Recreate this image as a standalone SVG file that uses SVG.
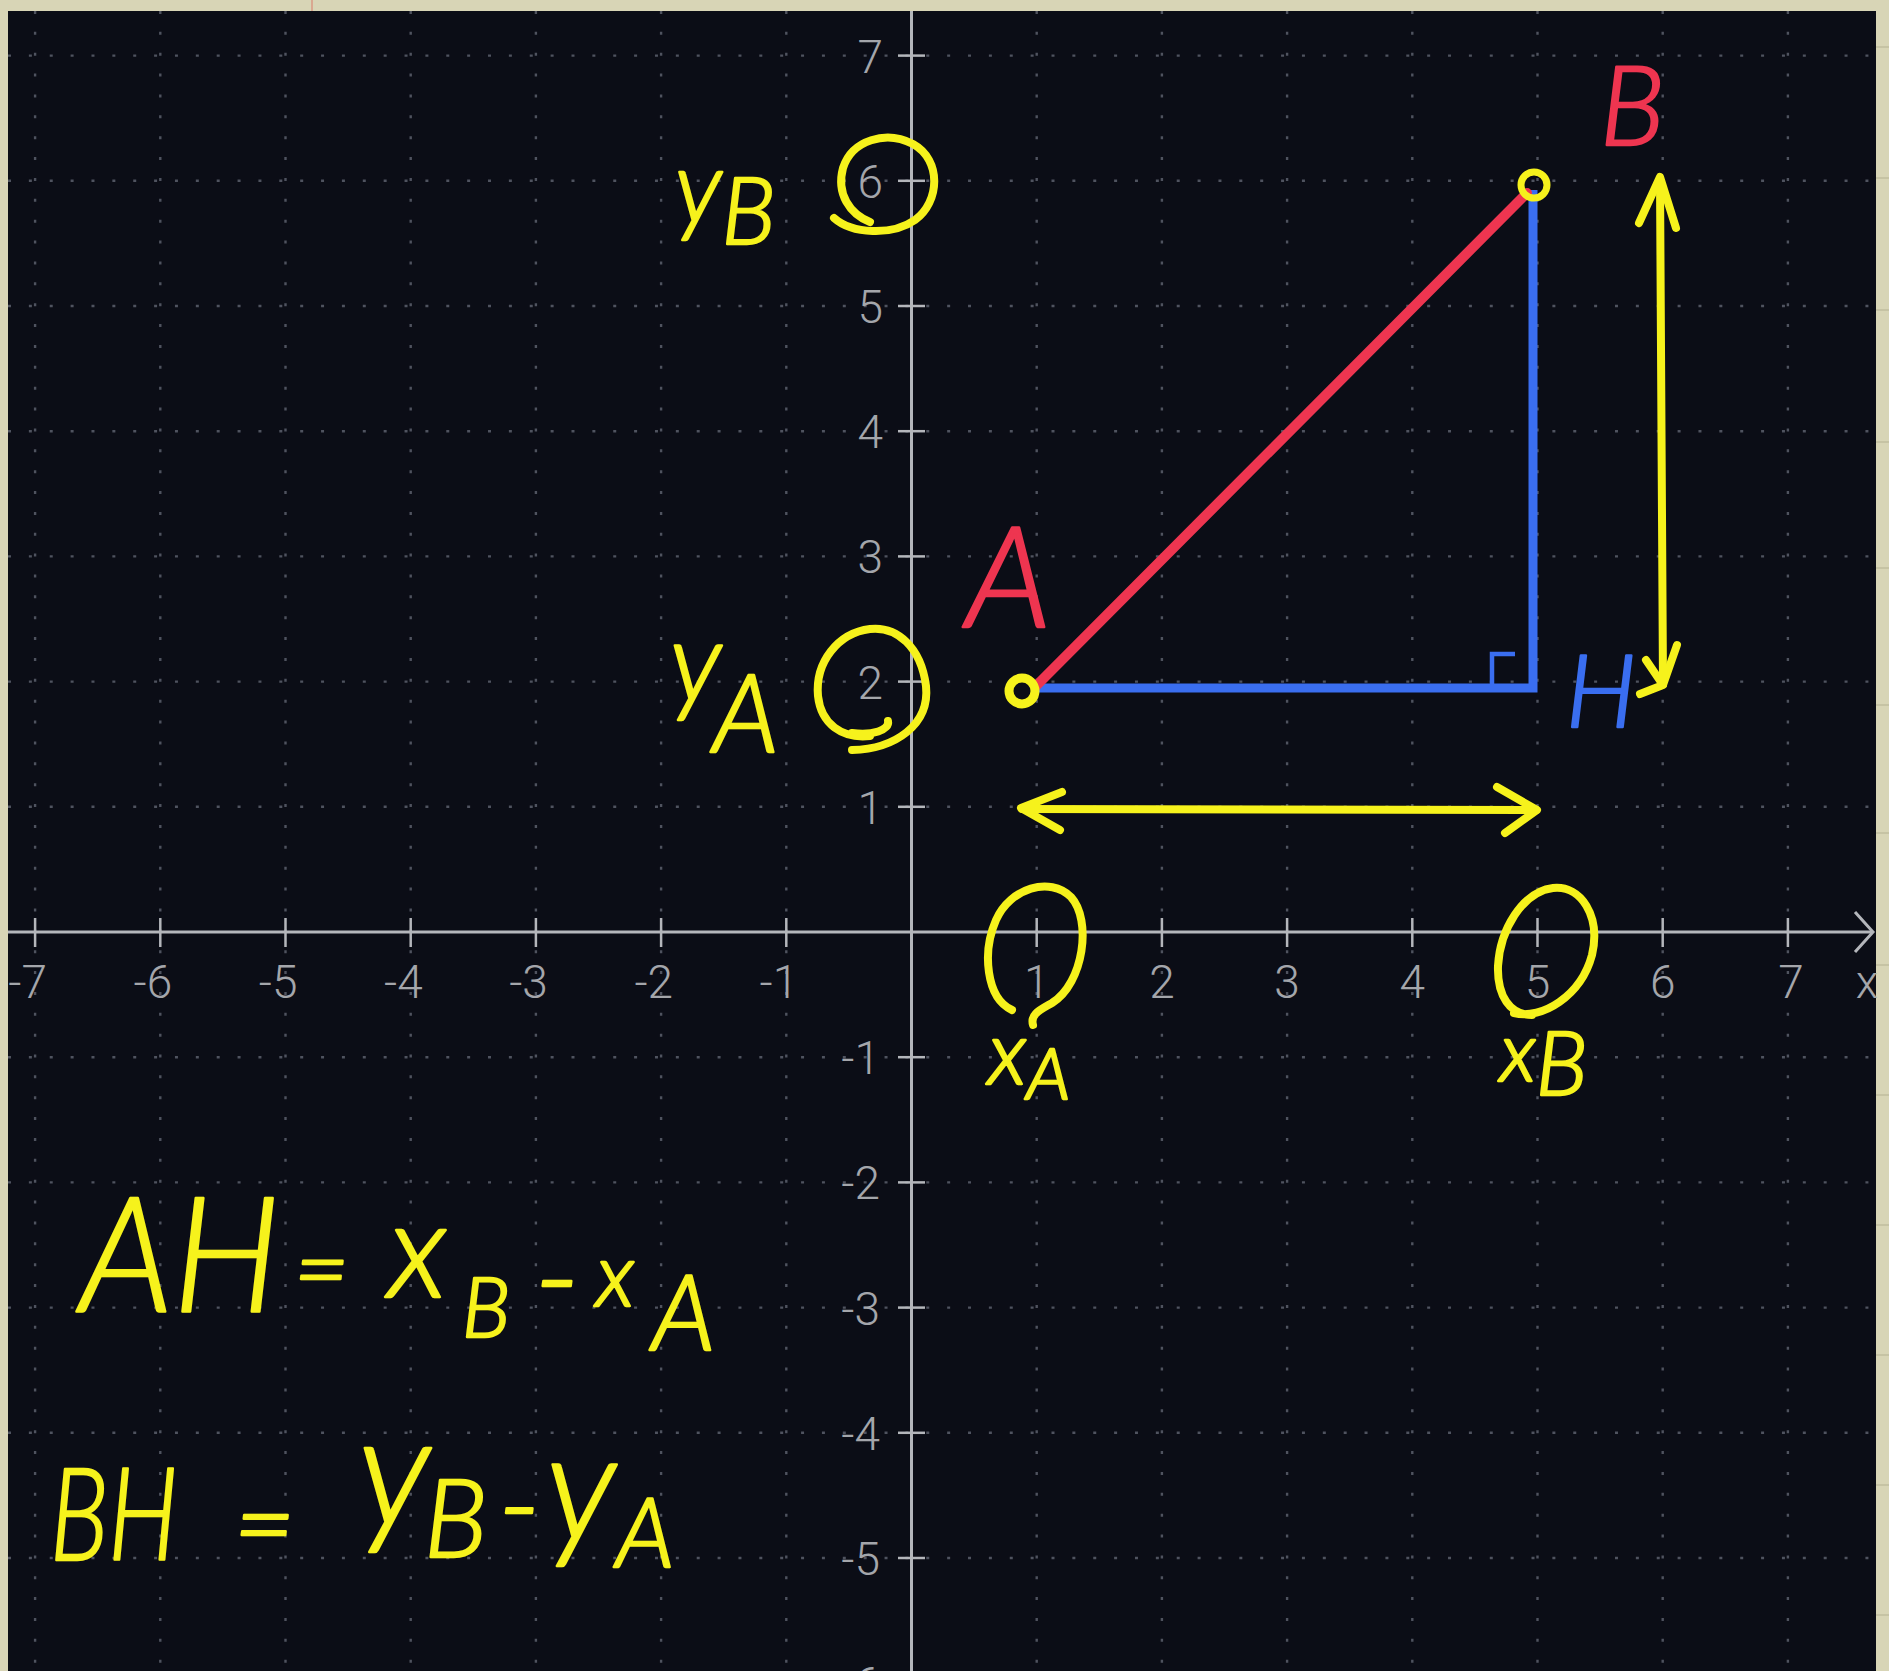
<svg xmlns="http://www.w3.org/2000/svg" width="1889" height="1671" viewBox="0 0 1889 1671">
<style>
.grid{stroke:#4f535f;stroke-width:2.4;stroke-dasharray:3 17.87;fill:none}
.axis{stroke:#b4b6bb;stroke-width:3;fill:none}
.tick{stroke:#b4b6bb;stroke-width:2.5}
.num{font-family:Roboto,"Liberation Sans",sans-serif;font-weight:300;font-size:46px;fill:#a4a6ab}
.ny{text-anchor:end}
.nx{text-anchor:middle}
.yel{stroke:#f6f21c;stroke-width:8;fill:none;stroke-linecap:round;stroke-linejoin:round}
.hand{font-family:Lato,"Liberation Sans",sans-serif;font-style:italic;font-weight:300;stroke-width:2.5;stroke-linejoin:round}
.hy{fill:#f6f21c;stroke:#f6f21c}
.hr{fill:#ee3550;stroke:#ee3550}
.hb{fill:#3a6ef0;stroke:#3a6ef0}
</style>
<rect x="0" y="0" width="1889" height="1671" fill="#d8d5b6"/>
<line x1="312" y1="0" x2="312" y2="11" stroke="#d9a890" stroke-width="2"/>
<g stroke="#c6c3a4" stroke-width="2">
<line x1="1876" y1="47" x2="1889" y2="47"/><line x1="1876" y1="178" x2="1889" y2="178"/><line x1="1876" y1="310" x2="1889" y2="310"/><line x1="1876" y1="442" x2="1889" y2="442"/><line x1="1876" y1="568" x2="1889" y2="568"/><line x1="1876" y1="705" x2="1889" y2="705"/><line x1="1876" y1="833" x2="1889" y2="833"/><line x1="1876" y1="965" x2="1889" y2="965"/><line x1="1876" y1="1095" x2="1889" y2="1095"/><line x1="1876" y1="1225" x2="1889" y2="1225"/><line x1="1876" y1="1355" x2="1889" y2="1355"/><line x1="1876" y1="1485" x2="1889" y2="1485"/><line x1="1876" y1="1615" x2="1889" y2="1615"/>
</g>
<rect x="8" y="11" width="1868" height="1660" fill="#0b0d16"/>
<g id="grid">
<line class="grid" x1="35.1" y1="11" x2="35.1" y2="1671"/>
<line class="grid" x1="160.3" y1="11" x2="160.3" y2="1671"/>
<line class="grid" x1="285.5" y1="11" x2="285.5" y2="1671"/>
<line class="grid" x1="410.7" y1="11" x2="410.7" y2="1671"/>
<line class="grid" x1="535.9" y1="11" x2="535.9" y2="1671"/>
<line class="grid" x1="661.1" y1="11" x2="661.1" y2="1671"/>
<line class="grid" x1="786.3" y1="11" x2="786.3" y2="1671"/>
<line class="grid" x1="1036.7" y1="11" x2="1036.7" y2="1671"/>
<line class="grid" x1="1161.9" y1="11" x2="1161.9" y2="1671"/>
<line class="grid" x1="1287.1" y1="11" x2="1287.1" y2="1671"/>
<line class="grid" x1="1412.3" y1="11" x2="1412.3" y2="1671"/>
<line class="grid" x1="1537.5" y1="11" x2="1537.5" y2="1671"/>
<line class="grid" x1="1662.7" y1="11" x2="1662.7" y2="1671"/>
<line class="grid" x1="1787.9" y1="11" x2="1787.9" y2="1671"/>
<line class="grid" x1="8" y1="55.6" x2="1876" y2="55.6"/>
<line class="grid" x1="8" y1="180.8" x2="1876" y2="180.8"/>
<line class="grid" x1="8" y1="306" x2="1876" y2="306"/>
<line class="grid" x1="8" y1="431.2" x2="1876" y2="431.2"/>
<line class="grid" x1="8" y1="556.4" x2="1876" y2="556.4"/>
<line class="grid" x1="8" y1="681.6" x2="1876" y2="681.6"/>
<line class="grid" x1="8" y1="806.8" x2="1876" y2="806.8"/>
<line class="grid" x1="8" y1="1057.2" x2="1876" y2="1057.2"/>
<line class="grid" x1="8" y1="1182.4" x2="1876" y2="1182.4"/>
<line class="grid" x1="8" y1="1307.6" x2="1876" y2="1307.6"/>
<line class="grid" x1="8" y1="1432.8" x2="1876" y2="1432.8"/>
<line class="grid" x1="8" y1="1558" x2="1876" y2="1558"/>
</g>
<g id="axes">
<line class="axis" x1="911.5" y1="11" x2="911.5" y2="1671"/>
<line class="axis" x1="8" y1="932" x2="1873" y2="932"/>
<polyline class="axis" points="1855,912 1873,932 1855,952"/>
<g class="tick">
<line x1="35.1" y1="918" x2="35.1" y2="947"/><line x1="160.3" y1="918" x2="160.3" y2="947"/><line x1="285.5" y1="918" x2="285.5" y2="947"/><line x1="410.7" y1="918" x2="410.7" y2="947"/><line x1="535.9" y1="918" x2="535.9" y2="947"/><line x1="661.1" y1="918" x2="661.1" y2="947"/><line x1="786.3" y1="918" x2="786.3" y2="947"/><line x1="1036.7" y1="918" x2="1036.7" y2="947"/><line x1="1161.9" y1="918" x2="1161.9" y2="947"/><line x1="1287.1" y1="918" x2="1287.1" y2="947"/><line x1="1412.3" y1="918" x2="1412.3" y2="947"/><line x1="1537.5" y1="918" x2="1537.5" y2="947"/><line x1="1662.7" y1="918" x2="1662.7" y2="947"/><line x1="1787.9" y1="918" x2="1787.9" y2="947"/>
<line x1="898" y1="55.6" x2="925" y2="55.6"/><line x1="898" y1="180.8" x2="925" y2="180.8"/><line x1="898" y1="306" x2="925" y2="306"/><line x1="898" y1="431.2" x2="925" y2="431.2"/><line x1="898" y1="556.4" x2="925" y2="556.4"/><line x1="898" y1="681.6" x2="925" y2="681.6"/><line x1="898" y1="806.8" x2="925" y2="806.8"/><line x1="898" y1="1057.2" x2="925" y2="1057.2"/><line x1="898" y1="1182.4" x2="925" y2="1182.4"/><line x1="898" y1="1307.6" x2="925" y2="1307.6"/><line x1="898" y1="1432.8" x2="925" y2="1432.8"/><line x1="898" y1="1558" x2="925" y2="1558"/>
</g>
<g class="num">
<text class="ny" x="47" y="998">-7</text>
<text class="ny" x="172.3" y="998">-6</text>
<text class="ny" x="297.5" y="998">-5</text>
<text class="ny" x="422.7" y="998">-4</text>
<text class="ny" x="547.9" y="998">-3</text>
<text class="ny" x="673.1" y="998">-2</text>
<text class="ny" x="798.3" y="998">-1</text>
<text class="nx" x="1036.7" y="998">1</text>
<text class="nx" x="1161.9" y="998">2</text>
<text class="nx" x="1287.1" y="998">3</text>
<text class="nx" x="1412.3" y="998">4</text>
<text class="nx" x="1537.5" y="998">5</text>
<text class="nx" x="1662.7" y="998">6</text>
<text class="nx" x="1791" y="998">7</text>
<text class="nx" x="1867" y="998">x</text>
<text class="ny" x="883" y="72.6">7</text>
<text class="ny" x="883" y="197.8">6</text>
<text class="ny" x="883" y="323">5</text>
<text class="ny" x="883" y="448.2">4</text>
<text class="ny" x="883" y="573.4">3</text>
<text class="ny" x="883" y="698.6">2</text>
<text class="ny" x="883" y="823.8">1</text>
<text class="ny" x="880" y="1074.2">-1</text>
<text class="ny" x="880" y="1199.4">-2</text>
<text class="ny" x="880" y="1324.6">-3</text>
<text class="ny" x="880" y="1449.8">-4</text>
<text class="ny" x="880" y="1575">-5</text>
<text class="ny" x="880" y="1700.2">-6</text>
</g>
</g>
<g id="connectors">
<polyline id="AH-HB" points="1036,688 1533,688 1533,190" fill="none" stroke="#3a6ef0" stroke-width="9" stroke-linejoin="miter"/>
<polyline id="right-angle" points="1492,684 1492,654 1515,654" fill="none" stroke="#3a6ef0" stroke-width="4.5"/>
<line id="AB" x1="1036" y1="686" x2="1527" y2="193" stroke="#ee3550" stroke-width="10" stroke-linecap="round"/>
<g id="arrow-x">
<line class="yel" x1="1022" y1="809" x2="1536" y2="810"/>
<polyline class="yel" points="1062,792 1021,808 1060,830"/>
<polyline class="yel" points="1497,787 1537,810 1505,833"/>
</g>
<g id="arrow-y">
<line class="yel" x1="1660" y1="180" x2="1663" y2="684"/>
<polyline class="yel" points="1639,223 1660,177 1676,228"/>
<path class="yel" d="M1646,660 L1663,685 L1677,645 M1663,685 L1640,694"/>
</g>
</g>
<g id="point-A">
<circle cx="1022" cy="691" r="13" fill="none" stroke="#f6f21c" stroke-width="9"/>
<text class="hand hr" x="966" y="627" font-size="140">A</text>
</g>
<g id="point-B">
<circle cx="1534" cy="185" r="13" fill="none" stroke="#f6f21c" stroke-width="7"/>
<text class="hand hr" x="1600" y="145" font-size="110">B</text>
</g>
<g id="point-H">
<text class="hand hb" x="1566" y="727" font-size="100">H</text>
</g>
<g id="mark-yB">
<path class="yel" d="M834,218 C852,234 892,236 915,220 C940,202 942,160 913,144 C886,130 852,140 843,168 C836,194 850,214 870,222" stroke-width="7"/>
<text class="hand hy" x="675" y="222" font-size="100">y<tspan dy="22" font-size="92">B</tspan></text>
</g>
<g id="mark-yA">
<path class="yel" d="M852,733 C872,736 890,730 888,721 M852,750 C895,749 930,725 926,686 C921,647 897,626 870,629 C838,633 815,662 818,696 C821,724 842,739 870,736" stroke-width="7"/>
<text class="hand hy" x="670" y="700" font-size="110">y<tspan dx="-8" dy="52" font-size="108">A</tspan></text>
</g>
<g id="mark-xA">
<path class="yel" d="M1033,1025 C1030,1014 1040,1010 1052,1003 C1084,983 1092,920 1071,897 C1050,876 1010,888 996,920 C982,952 986,998 1012,1010" stroke-width="7"/>
<text class="hand hy" x="988" y="1084" font-size="88">x<tspan dy="15" font-size="72">A</tspan></text>
</g>
<g id="mark-xB">
<path class="yel" d="M1514,1013 C1542,1020 1581,996 1592,955 C1601,916 1581,885 1553,888 C1522,892 1500,930 1498,966 C1497,996 1510,1015 1532,1015" stroke-width="7"/>
<text class="hand hy" x="1500" y="1081" font-size="82">x<tspan dy="14" font-size="88">B</tspan></text>
</g>
<g id="formula-AH">
<text class="hand hy"><tspan x="80" y="1311" font-size="160" textLength="200" lengthAdjust="spacingAndGlyphs">AH</tspan><tspan x="294" y="1302" font-size="95">=</tspan><tspan x="388" y="1297" font-size="135">x</tspan><tspan x="462" y="1337" font-size="82">B</tspan><tspan x="534" y="1322" font-size="130">-</tspan><tspan x="596" y="1306" font-size="88">x</tspan><tspan x="652" y="1350" font-size="104">A</tspan></text>
</g>
<g id="formula-BH">
<text class="hand hy"><tspan x="50" y="1560" font-size="128" textLength="128" lengthAdjust="spacingAndGlyphs">BH</tspan><tspan x="234" y="1560" font-size="105">=</tspan><tspan x="358" y="1525" font-size="155">y</tspan><tspan x="424" y="1557" font-size="108">B</tspan><tspan x="498" y="1546" font-size="120">-</tspan><tspan x="546" y="1540" font-size="150">y</tspan><tspan x="616" y="1567" font-size="96">A</tspan></text>
</g>
</svg>
